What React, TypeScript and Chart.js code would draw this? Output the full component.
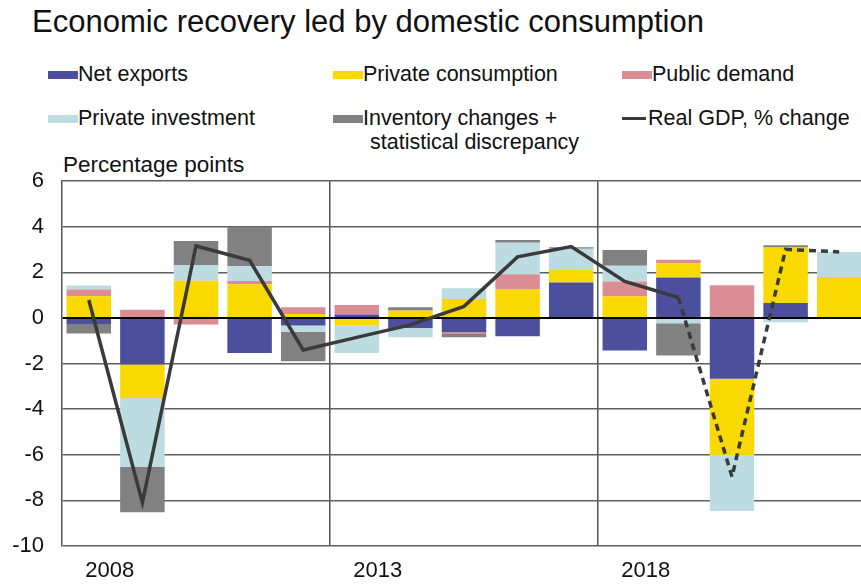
import React, { useEffect, useRef } from "react";
import { Chart, registerables } from "chart.js";

Chart.register(...registerables);

const years = ["2008", "2009", "2010", "2011", "2012", "2013", "2014", "2015", "2016", "2017", "2018", "2019", "2020", "2021", "2022"];
const shownYearLabels = ["2008", "2013", "2018"];

const netExports = [-0.26, -2.04, 0, -1.53, -0.33, 0.15, -0.44, -0.63, -0.8, 1.56, -1.43, 1.78, -2.66, 0.66, 0];
const privateConsumption = [0.95, -1.47, 1.63, 1.48, 0.17, -0.33, 0.32, 0.83, 1.27, 0.54, 0.95, 0.61, -3.35, 2.43, 1.8];
const publicDemand = [0.3, 0.36, -0.29, 0.14, 0.3, 0.42, 0.03, -0.07, 0.65, 0, 0.65, 0.16, 1.44, 0, 0];
const privateInvestment = [0.17, -3.01, 0.7, 0.65, -0.27, -1.2, -0.4, 0.47, 1.38, 0.94, 0.69, -0.23, -2.45, -0.19, 1.1];
const inventory = [-0.42, -2.0, 1.05, 1.72, -1.3, 0, 0.12, -0.14, 0.12, 0.06, 0.69, -1.41, 0, 0.1, 0];
const realGdp = [0.79, -8.1, 3.16, 2.53, -1.4, -0.85, -0.3, 0.51, 2.68, 3.13, 1.6, 0.9, -6.96, 3.01, 2.9];

const yTicks = [6, 4, 2, 0, -2, -4, -6, -8, -10];

const barSeries = [
  { label: "Net exports", data: netExports, color: "#4B4F9D" },
  { label: "Private consumption", data: privateConsumption, color: "#F9D900" },
  { label: "Public demand", data: publicDemand, color: "#DA8D93" },
  { label: "Private investment", data: privateInvestment, color: "#BCDCE1" },
  { label: "Inventory changes +\nstatistical discrepancy", data: inventory, color: "#818181" },
];
const lineLabel = "Real GDP, % change";
const lineColor = "#3a3a3a";

const FONT = "'Liberation Sans', Arial, Helvetica, sans-serif";

function LegendItem({ label, color, isLine, left, top }: { label: string; color: string; isLine?: boolean; left: number; top: number }) {
  const lines = label.split("\n");
  return (
    <div style={{ position: "absolute", left, top, fontSize: 21.5, lineHeight: "24px", color: "#111", fontFamily: FONT, whiteSpace: "nowrap" }}>
      <div style={{ position: "relative", height: 24 }}>
        {isLine ? (
          <div style={{ position: "absolute", left: 0, top: 11, width: 24, height: 3, background: color }} />
        ) : (
          <div style={{ position: "absolute", left: 0, top: 9, width: 30, height: 8, background: color }} />
        )}
        <span style={{ position: "absolute", left: isLine ? 26 : 30, top: 0 }}>{lines[0]}</span>
      </div>
      {lines.slice(1).map((l, i) => (
        <div key={i} style={{ position: "relative", height: 24 }}>
          <span style={{ position: "absolute", left: 37, top: 0 }}>{l}</span>
        </div>
      ))}
    </div>
  );
}

export default function App() {
  const canvasRef = useRef<HTMLCanvasElement | null>(null);

  useEffect(() => {
    if (!canvasRef.current) return;
    const datasets: any[] = [
      {
        type: "line",
        label: lineLabel,
        data: realGdp,
        borderColor: lineColor,
        backgroundColor: lineColor,
        borderWidth: 3.5,
        pointRadius: 0,
        tension: 0,
        fill: false,
        stack: "gdp",
        order: 0,
        segment: {
          borderDash: (ctx: any) => (ctx.p0DataIndex >= 11 ? [7, 5] : undefined),
        },
      },
      ...barSeries.map((s) => ({
        type: "bar",
        label: s.label,
        data: s.data,
        backgroundColor: s.color,
        borderWidth: 0,
        stack: "bars",
        order: 1,
        categoryPercentage: 1,
        barPercentage: 0.83,
      })),
    ];

    const chart = new Chart(canvasRef.current, {
      type: "bar",
      data: { labels: years, datasets },
      options: {
        animation: false,
        responsive: false,
        devicePixelRatio: 1,
        layout: { padding: { top: 29, right: 14, left: 0, bottom: 0 } },
        plugins: { legend: { display: false }, tooltip: { enabled: false }, title: { display: false } },
        scales: {
          x: {
            stacked: true,
            offset: true,
            grid: {
              offset: true,
              drawTicks: false,
              color: (ctx: any) => (ctx.index === 5 || ctx.index === 10 ? "#555" : "rgba(0,0,0,0)"),
              lineWidth: 1.5,
            },
            border: { display: false },
            ticks: {
              autoSkip: false,
              maxRotation: 0,
              labelOffset: 21,
              padding: 12,
              color: "#111",
              font: { family: FONT, size: 22 },
              callback: (_v: any, i: number) => (shownYearLabels.includes(years[i]) ? years[i] : ""),
            },
            afterFit: (scale: any) => {
              scale.height = 38;
            },
          },
          y: {
            stacked: true,
            min: yTicks[yTicks.length - 1],
            max: yTicks[0],
            afterBuildTicks: (scale: any) => {
              scale.ticks = yTicks.map((v) => ({ value: v }));
            },
            grid: {
              drawTicks: false,
              color: (ctx: any) => (ctx.tick && ctx.tick.value === 0 ? "#000" : "#5f5f5f"),
              lineWidth: (ctx: any) => (ctx.tick && ctx.tick.value === 0 ? 2 : 1.5),
            },
            border: { display: true, color: "#555", width: 1.5 },
            ticks: {
              padding: 18,
              color: "#111",
              font: { family: FONT, size: 22 },
              callback: (v: any) => String(v),
            },
            afterFit: (scale: any) => {
              scale.width = 62;
            },
          },
        },
      },
    });
    return () => chart.destroy();
  }, []);

  return (
    <div style={{ position: "fixed", left: 0, top: 0, width: 861, height: 584, overflow: "hidden", background: "#fff", fontFamily: FONT }}>
      <div style={{ position: "absolute", left: 32, top: 3, fontSize: 31, lineHeight: "38px", color: "#111", whiteSpace: "nowrap" }}>
        Economic recovery led by domestic consumption
      </div>
      <LegendItem label={barSeries[0].label} color={barSeries[0].color} left={48} top={62} />
      <LegendItem label={barSeries[1].label} color={barSeries[1].color} left={333} top={62} />
      <LegendItem label={barSeries[2].label} color={barSeries[2].color} left={622} top={62} />
      <LegendItem label={barSeries[3].label} color={barSeries[3].color} left={48} top={106} />
      <LegendItem label={barSeries[4].label} color={barSeries[4].color} left={333} top={106} />
      <LegendItem label={lineLabel} color={lineColor} isLine left={622} top={106} />
      <div style={{ position: "absolute", left: 63, top: 152, fontSize: 22.5, lineHeight: "26px", color: "#111", whiteSpace: "nowrap" }}>
        Percentage points
      </div>
      <div style={{ position: "absolute", left: 0, top: 150, width: 880, height: 434 }}>
        <canvas ref={canvasRef} width={880} height={434} style={{ display: "block", width: 880, height: 434 }} />
      </div>
    </div>
  );
}
